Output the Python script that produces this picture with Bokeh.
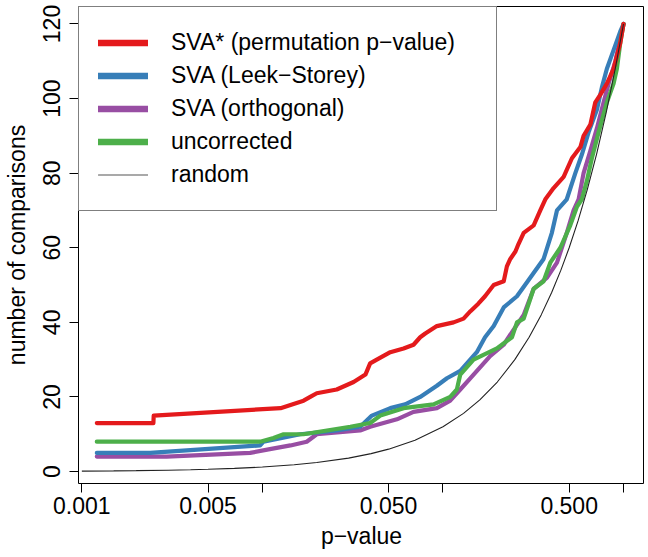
from bokeh.plotting import figure
from bokeh.models import Range1d, FixedTicker, Legend, LegendItem, NumeralTickFormatter
from bokeh.embed import file_html
from bokeh.resources import INLINE

FONT = "Liberation Sans"

# SVA* (permutation p-value)
red_p = [0.00121, 0.00249, 0.0025, 0.0126, 0.0169, 0.0184, 0.0200, 0.0258, 0.0320, 0.0372,
         0.0395, 0.0430, 0.0511, 0.0605, 0.0687, 0.0748, 0.0798, 0.0925, 0.1145, 0.130,
         0.142, 0.157, 0.171, 0.191, 0.217, 0.226, 0.236, 0.252, 0.262, 0.280,
         0.318, 0.346, 0.369, 0.410, 0.466, 0.518, 0.577, 0.601, 0.655, 0.698,
         0.743, 0.809, 0.881, 0.960, 1.0]
red_n = [13, 13, 15, 17, 19, 20, 21, 22, 24, 26,
         29, 30, 32, 33, 34, 36, 37, 39, 40, 41,
         43, 45, 47, 50, 51, 55, 57, 59, 61, 64,
         66, 70, 73, 76, 79, 84, 87, 90, 93, 99,
         101, 104, 108, 115, 120]

# SVA (Leek-Storey)
blue_p = [0.00121, 0.00239, 0.00972, 0.01014, 0.0162, 0.0258, 0.0348, 0.0404, 0.0511, 0.0618,
          0.0748, 0.0925, 0.1052, 0.1247, 0.154, 0.171, 0.191, 0.217, 0.257, 0.305,
          0.361, 0.401, 0.428, 0.485, 0.541, 0.588, 0.641, 0.712, 0.759, 0.809,
          0.881, 0.960, 1.0]
blue_n = [5, 5, 7, 8, 10, 11, 12, 15, 17, 18,
          20, 23, 25, 27, 32, 36, 39, 44, 47, 52,
          57, 64, 70, 73, 80, 85, 91, 97, 103, 108,
          113, 118, 120]

# SVA (orthogonal)
purple_p = [0.00121, 0.00295, 0.00855, 0.0110, 0.0143, 0.0176, 0.0200, 0.0348, 0.0395, 0.0556,
            0.0687, 0.0925, 0.1097, 0.1247, 0.1416, 0.183, 0.217, 0.246, 0.280, 0.318,
            0.377, 0.428, 0.485, 0.529, 0.564, 0.601, 0.655, 0.712, 0.776, 0.827,
            0.901, 0.960, 1.0]
purple_n = [4, 4, 5, 6, 7, 8, 10, 11, 12, 14,
            16, 17, 19, 22, 25, 31, 34, 38, 42, 49,
            52, 56, 64, 70, 73, 80, 86, 92, 99, 104,
            110, 116, 120]

# uncorrected
green_p = [0.00121, 0.00972, 0.01152, 0.0131, 0.0169, 0.0307, 0.0395, 0.0450, 0.0605, 0.0887,
           0.1097, 0.1194, 0.1247, 0.1477, 0.199, 0.241, 0.257, 0.280, 0.318, 0.361,
           0.393, 0.447, 0.507, 0.552, 0.588, 0.627, 0.668, 0.728, 0.809, 0.881,
           0.919, 0.960, 1.0]
green_n = [8, 8, 9, 10, 10, 12, 13, 15, 17, 18,
           20, 22, 26, 30, 33, 36, 40, 41, 49, 51,
           56, 60, 66, 71, 73, 78, 84, 91, 99, 104,
           108, 115, 120]

# random (expected count under uniform p-values)
random_p = [0.001, 0.0015, 0.002, 0.003, 0.004, 0.005, 0.007, 0.01, 0.015, 0.02,
            0.03, 0.04, 0.05, 0.07, 0.1, 0.13, 0.16, 0.2, 0.25, 0.3,
            0.35, 0.4, 0.45, 0.5, 0.56, 0.63, 0.71, 0.8, 0.9, 1.0]
random_n = [0.12, 0.18, 0.24, 0.36, 0.48, 0.6, 0.84, 1.2, 1.8, 2.4,
            3.6, 4.8, 6.0, 8.4, 12.0, 15.6, 19.2, 24.0, 30.0, 36.0,
            42.0, 48.0, 54.0, 60.0, 67.2, 75.6, 85.2, 96.0, 108.0, 120.0]

labels = ["SVA* (permutation p\u2212value)", "SVA (Leek\u2212Storey)",
          "SVA (orthogonal)", "uncorrected", "random"]
colors = ["#E41A1C", "#377EB8", "#984EA3", "#4DAF4A", "#222222"]

x_ticks = [0.001, 0.005, 0.05, 0.5]
x_minor = [0.01, 0.1, 1]
y_ticks = [0, 20, 40, 60, 80, 100, 120]

p = figure(frame_width=566, frame_height=477, x_axis_type="log",
           x_range=Range1d(0.000958, 1.307), y_range=Range1d(-3.21, 124.69),
           min_border_left=75, min_border_right=0, min_border_top=6, min_border_bottom=70,
           toolbar_location=None, output_backend="svg")
p.grid.visible = False
p.outline_line_color = "black"
p.outline_line_width = 1
p.background_fill_color = "white"
p.border_fill_color = "white"

series = {
    "purple": (purple_p, purple_n, colors[2]),
    "blue": (blue_p, blue_n, colors[1]),
    "green": (green_p, green_n, colors[3]),
    "red": (red_p, red_n, colors[0]),
}
for key in ["purple", "blue", "green", "red"]:
    xs, ys, c = series[key]
    p.line(xs, ys, line_color=c, line_width=4.2, line_join="round", line_cap="round")
p.line(random_p, random_n, line_color=colors[4], line_width=1.1)

# legend glyphs (thicker, as in the original legend)
leg_data = [(red_p, red_n), (blue_p, blue_n), (purple_p, purple_n), (green_p, green_n), (random_p, random_n)]
items = []
for i, (lab, c) in enumerate(zip(labels, colors)):
    xs, ys = leg_data[i]
    w = 1.1 if i == 4 else 6.5
    r = p.line(xs, ys, line_color=c if i < 4 else "#555555", line_width=w, line_cap="round", visible=False)
    items.append(LegendItem(label=lab, renderers=[r]))

legend = Legend(items=items, location="top_left", margin=0, padding=19, spacing=0,
                glyph_width=50, glyph_height=33, label_height=33, label_width=306,
                label_standoff=23, label_text_font=FONT, label_text_font_size="23px",
                label_text_color="black",
                border_line_color="black", border_line_width=1,
                background_fill_color="white", background_fill_alpha=1)
p.add_layout(legend, "center")

for ax in (p.xaxis[0], p.yaxis[0]):
    ax.axis_line_color = None
    ax.major_tick_in = 0
    ax.major_tick_out = 9
    ax.major_tick_line_color = "black"
    ax.major_label_text_font = FONT
    ax.major_label_text_font_size = "23px"
    ax.major_label_text_color = "black"
    ax.axis_label_text_font = FONT
    ax.axis_label_text_font_size = "23px"
    ax.axis_label_text_font_style = "normal"
    ax.axis_label_text_color = "black"

p.xaxis.ticker = FixedTicker(ticks=x_ticks, minor_ticks=x_minor)
p.xaxis.formatter = NumeralTickFormatter(format="0.000")
p.xaxis.minor_tick_in = 0
p.xaxis.minor_tick_out = 9
p.xaxis.minor_tick_line_color = "black"
p.xaxis.major_label_standoff = 4
p.xaxis.axis_label = "p\u2212value"
p.xaxis.axis_label_standoff = 6

p.yaxis.ticker = FixedTicker(ticks=y_ticks, minor_ticks=[])
p.yaxis.major_label_orientation = "vertical"
p.yaxis.major_label_standoff = 9
p.yaxis.axis_label = "number of comparisons"
p.yaxis.axis_label_standoff = 11

open("out.html", "w").write(file_html(p, INLINE))
